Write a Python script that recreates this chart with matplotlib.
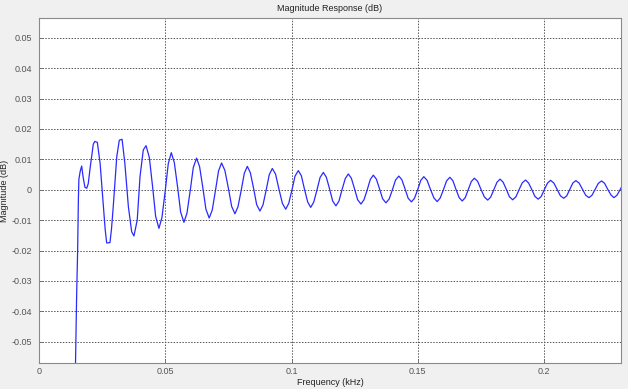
import matplotlib
matplotlib.use('Agg')
import matplotlib.pyplot as plt

# frequency (kHz) and magnitude (dB)
freq_khz = [
    0.0140, 0.0149, 0.0153, 0.0156, 0.0158, 0.0163, 0.0169, 0.0175, 0.0182, 0.0189,
    0.0195, 0.0203, 0.0215, 0.0221, 0.0231, 0.0242, 0.0255, 0.0262, 0.0268, 0.0281,
    0.0287, 0.0294, 0.0308, 0.0318, 0.0329, 0.0340, 0.0354, 0.0367, 0.0376, 0.0389,
    0.0400, 0.0413, 0.0424,
    0.0437, 0.0450, 0.0462, 0.0475, 0.0487, 0.0500, 0.0512, 0.0524,
    0.0536, 0.0549, 0.0561, 0.0574, 0.0586, 0.0599, 0.0611, 0.0624,
    0.0636, 0.0649, 0.0661, 0.0674, 0.0686, 0.0699, 0.0711, 0.0723,
    0.0736, 0.0750, 0.0763, 0.0776, 0.0788, 0.0801, 0.0813, 0.0825,
    0.0837, 0.0850, 0.0862, 0.0875, 0.0887, 0.0900, 0.0912, 0.0924,
    0.0937, 0.0950, 0.0964, 0.0977, 0.0989, 0.1002, 0.1014, 0.1027,
    0.1039, 0.1051, 0.1064, 0.1076, 0.1088, 0.1101, 0.1113, 0.1126,
    0.1138, 0.1151, 0.1163, 0.1176, 0.1188, 0.1200, 0.1213, 0.1225,
    0.1237, 0.1250, 0.1262, 0.1275, 0.1287, 0.1300, 0.1312, 0.1324,
    0.1336, 0.1349, 0.1361, 0.1374, 0.1387, 0.1400, 0.1412, 0.1425,
    0.1437, 0.1450, 0.1462, 0.1475, 0.1487, 0.1500, 0.1512, 0.1524,
    0.1537, 0.1550, 0.1564, 0.1577, 0.1589, 0.1602, 0.1614, 0.1627,
    0.1639, 0.1651, 0.1664, 0.1676, 0.1688, 0.1700, 0.1712, 0.1724,
    0.1737, 0.1750, 0.1764, 0.1777, 0.1789, 0.1801, 0.1814, 0.1826,
    0.1838, 0.1851, 0.1863, 0.1876, 0.1889, 0.1901, 0.1914, 0.1927,
    0.1939, 0.1952, 0.1964, 0.1977, 0.1989, 0.2001, 0.2014, 0.2026,
    0.2039, 0.2052, 0.2065, 0.2078, 0.2090, 0.2102, 0.2114, 0.2126,
    0.2139, 0.2152, 0.2165, 0.2178, 0.2190, 0.2203, 0.2215, 0.2228,
    0.2240, 0.2252, 0.2265, 0.2277, 0.2289, 0.2302, 0.2314,
]
mag_db = [
    -0.0800, -0.0350, -0.0200, -0.0030, 0.0035, 0.0060, 0.0078, 0.0040, 0.0008, 0.0005,
    0.0020, 0.0075, 0.0150, 0.0159, 0.0156, 0.0087, -0.0056, -0.0130, -0.0175, -0.0174,
    -0.0130, -0.0056, 0.0109, 0.0163, 0.0166, 0.0087, -0.0056, -0.0138, -0.0152, -0.0100,
    0.0043, 0.0131, 0.0145,
    0.0106, 0.0009, -0.0088, -0.0127, -0.0091, -0.0003, 0.0086, 0.0122,
    0.0089, 0.0008, -0.0074, -0.0107, -0.0077, -0.0002, 0.0073, 0.0104,
    0.0076, 0.0006, -0.0064, -0.0093, -0.0067, -0.0002, 0.0062, 0.0088,
    0.0064, 0.0005, -0.0055, -0.0079, -0.0056, -0.0001, 0.0054, 0.0077,
    0.0056, 0.0004, -0.0049, -0.0070, -0.0050, 0.0000, 0.0050, 0.0070,
    0.0051, 0.0003, -0.0045, -0.0064, -0.0045, 0.0000, 0.0045, 0.0063,
    0.0046, 0.0003, -0.0040, -0.0058, -0.0041, 0.0000, 0.0040, 0.0057,
    0.0041, 0.0002, -0.0037, -0.0053, -0.0037, 0.0000, 0.0037, 0.0052,
    0.0038, 0.0002, -0.0033, -0.0047, -0.0033, 0.0000, 0.0034, 0.0048,
    0.0035, 0.0002, -0.0030, -0.0043, -0.0030, 0.0001, 0.0032, 0.0045,
    0.0033, 0.0002, -0.0028, -0.0040, -0.0028, 0.0001, 0.0031, 0.0043,
    0.0031, 0.0002, -0.0027, -0.0039, -0.0027, 0.0001, 0.0029, 0.0041,
    0.0030, 0.0002, -0.0026, -0.0037, -0.0026, 0.0000, 0.0027, 0.0038,
    0.0028, 0.0002, -0.0024, -0.0034, -0.0024, 0.0000, 0.0025, 0.0035,
    0.0025, 0.0001, -0.0023, -0.0033, -0.0023, 0.0000, 0.0023, 0.0032,
    0.0022, 0.0000, -0.0022, -0.0031, -0.0022, 0.0000, 0.0022, 0.0031,
    0.0022, 0.0001, -0.0020, -0.0028, -0.0020, 0.0001, 0.0022, 0.0030,
    0.0022, 0.0002, -0.0018, -0.0026, -0.0018, 0.0002, 0.0021, 0.0029,
    0.0021, 0.0002, -0.0017, -0.0026, -0.0018, 0.0001, 0.0021,
]
x_ticks = [0, 0.05, 0.1, 0.15, 0.2]
x_tick_labels = ['0', '0.05', '0.1', '0.15', '0.2']
y_ticks = [-0.05, -0.04, -0.03, -0.02, -0.01, 0, 0.01, 0.02, 0.03, 0.04, 0.05]
y_tick_labels = ['-0.05', '-0.04', '-0.03', '-0.02', '-0.01', '0',
                 '0.01', '0.02', '0.03', '0.04', '0.05']

plt.rcParams['font.family'] = ['Liberation Sans', 'DejaVu Sans']

fig = plt.figure(figsize=(6.28, 3.89), dpi=100, facecolor='#f0f0f0')
ax = fig.add_axes([0.0621, 0.0668, 0.9268, 0.8869])
ax.set_facecolor('white')

ax.plot(freq_khz, mag_db, color='#2a2aff', linewidth=0.9)

ax.set_xlim(0, 0.2305)
ax.set_ylim(-0.057, 0.0565)
ax.set_xticks(x_ticks)
ax.set_xticklabels(x_tick_labels)
ax.set_yticks(y_ticks)
ax.set_yticklabels(y_tick_labels)

ax.grid(True, linestyle=(0, (1.5, 1.5)), color='#555555', linewidth=0.7)
ax.tick_params(direction='in', length=3, width=0.6, color='#666666',
               labelsize=6.5, labelcolor='#555555')
ax.tick_params(axis='x', pad=3)
ax.tick_params(axis='y', pad=5)
for side in ax.spines.values():
    side.set_color('#8a8a8a')
    side.set_linewidth(0.8)

ax.set_title('Magnitude Response (dB)', fontsize=6.5, color='#222222', pad=5)
ax.set_xlabel('Frequency (kHz)', fontsize=6.5, color='#222222', labelpad=1)
ax.set_ylabel('Magnitude (dB)', fontsize=6.5, color='#222222', labelpad=2)

fig.savefig('out.png', dpi=100, facecolor=fig.get_facecolor())
